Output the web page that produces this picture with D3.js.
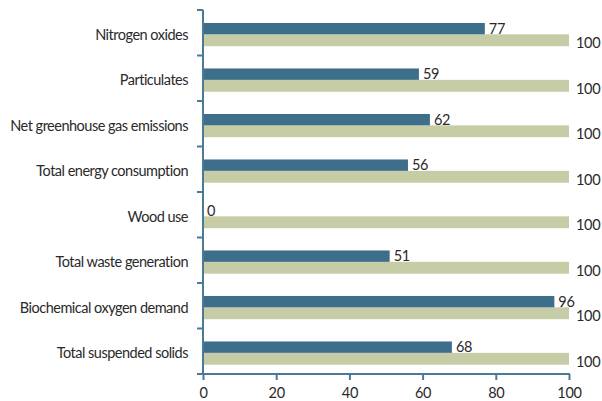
<!DOCTYPE html>
<html><head><meta charset="utf-8">
<script src="https://cdn.jsdelivr.net/npm/d3@7"></script>
<style>body{margin:0;background:#fff}svg{display:block}text{font-family:Lato,"Open Sans",sans-serif}</style>
</head><body>
<svg id="c" width="602" height="401"></svg>
<script>
const categories = ["Nitrogen oxides","Particulates","Net greenhouse gas emissions","Total energy consumption","Wood use","Total waste generation","Biochemical oxygen demand","Total suspended solids"];
const seriesA = [77,59,62,56,0,51,96,68];
const seriesB = [100,100,100,100,100,100,100,100];
const xTicks = [0,20,40,60,80,100];

const svg = d3.select("#c");
const mLeft = 203, mRight = 569, mTop = 10, mBottom = 374;
const axisColor = "#4a7a96";
const font = "Lato,'Open Sans',sans-serif";
const fs = 14.5;
const txt = "#2a2a2a";
const x = d3.scaleLinear().domain([0,100]).range([mLeft,mRight]);
const y = d3.scaleBand().domain(categories).range([mTop,mBottom]).paddingInner(0.5).paddingOuter(0.25).align(0.57);
const yb = d3.scaleBand().domain(["a","b"]).range([0,y.bandwidth()]);

const g = svg.append("g");
categories.forEach((c,i)=>{
  g.append("rect").attr("x",x(0)).attr("y",y(c)+yb("b")).attr("width",x(seriesB[i])-x(0)).attr("height",yb.bandwidth()+0.5).attr("fill","#c6cca6");
  g.append("rect").attr("x",x(0)).attr("y",y(c)+yb("a")).attr("width",x(seriesA[i])-x(0)).attr("height",yb.bandwidth()).attr("fill","#3d6e8a");
  g.append("text").attr("x",x(seriesA[i])+4).attr("y",y(c)+yb("a")+yb.bandwidth()/2).attr("dy","0.36em").attr("font-size",fs).attr("letter-spacing","-0.3px").attr("fill",txt).text(seriesA[i]);
  g.append("text").attr("x",x(seriesB[i])+7).attr("y",y(c)+yb("b")+yb.bandwidth()/2+3).attr("dy","0.36em").attr("font-size",fs).attr("letter-spacing","-0.3px").attr("fill",txt).text(seriesB[i]);
  g.append("text").attr("x",188).attr("y",y(c)+y.bandwidth()/2).attr("dy","0.36em").attr("text-anchor","end").attr("font-size",fs).attr("letter-spacing","-0.5px").attr("fill",txt).text(c);
});

// y axis
const bounds = d3.range(categories.length+1).map(i=>mTop + i*(mBottom-mTop)/categories.length);
svg.append("line").attr("x1",mLeft).attr("x2",mLeft).attr("y1",mTop).attr("y2",mBottom).attr("stroke",axisColor).attr("stroke-width",2);
bounds.forEach(b=>svg.append("line").attr("x1",mLeft-6).attr("x2",mLeft).attr("y1",b).attr("y2",b).attr("stroke",axisColor).attr("stroke-width",2));

// x axis
const xa = svg.append("g").attr("transform",`translate(0,${mBottom})`).call(d3.axisBottom(x).tickValues(xTicks).tickSize(6).tickSizeOuter(0));
xa.select(".domain").attr("stroke",axisColor).attr("stroke-width",2).attr("d",`M${mLeft-6},0H${mRight+1}`);
xa.selectAll(".tick line").attr("stroke",axisColor).attr("stroke-width",2);
xa.selectAll(".tick text").attr("font-size",fs).attr("fill",txt).attr("font-family",font).attr("letter-spacing","-0.3px").attr("dy","1.05em");
</script>
</body></html>
